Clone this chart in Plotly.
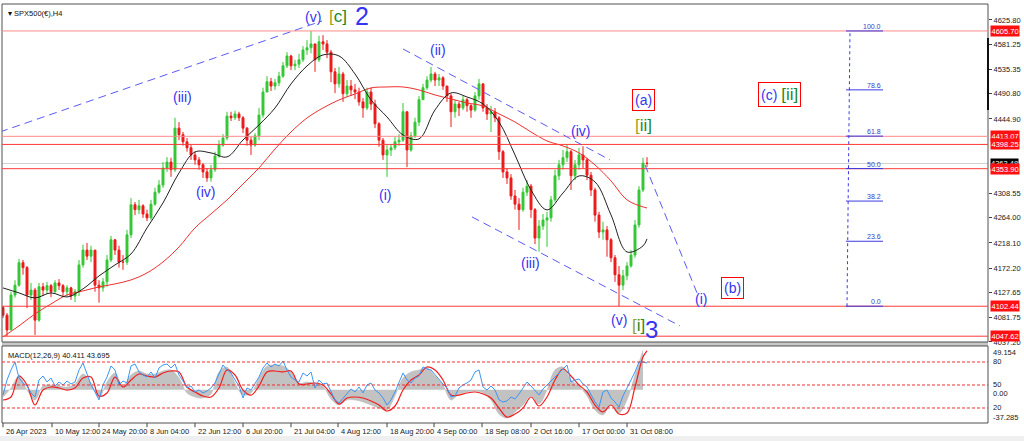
import plotly.graph_objects as go

# ---------------- data ----------------
first_open = 4100
close = [4086, 4059, 4123, 4141, 4182, 4173, 4123, 4132, 4077, 4138,
         4132, 4140, 4129, 4145, 4140, 4129, 4136, 4121, 4129, 4178,
         4205, 4194, 4205, 4141, 4136, 4147, 4187, 4224, 4205, 4183,
         4183, 4233, 4288, 4279, 4286, 4271, 4264, 4289, 4311, 4324,
         4355, 4366, 4352, 4428, 4416, 4403, 4392, 4379, 4370, 4361,
         4348, 4337, 4352, 4377, 4397, 4410, 4450, 4447, 4454, 4447,
         4428, 4406, 4397, 4414, 4452, 4494, 4513, 4505, 4511, 4523,
         4542, 4560, 4542, 4545, 4553, 4571, 4575, 4582, 4553, 4586,
         4582, 4567, 4531, 4509, 4527, 4491, 4505, 4498, 4494, 4476,
         4465, 4494, 4472, 4436, 4406, 4379, 4388, 4392, 4403, 4406,
         4458, 4388, 4414, 4439, 4480, 4502, 4516, 4527, 4516, 4520,
         4505, 4487, 4458, 4472, 4465, 4480, 4469, 4461, 4487, 4509,
         4465, 4454, 4458, 4447, 4385, 4348, 4337, 4304, 4289, 4279,
         4311, 4322, 4279, 4227, 4249, 4260, 4264, 4297, 4341, 4361,
         4374, 4385, 4341, 4361, 4379, 4370, 4342, 4315, 4269, 4238,
         4242, 4224, 4191, 4160, 4141, 4158, 4176, 4196, 4251, 4315,
         4364, 4363.48]
high = [4103, 4090, 4129, 4150, 4189, 4187, 4176, 4145, 4136, 4145,
        4145, 4147, 4143, 4150, 4152, 4143, 4141, 4138, 4134, 4187,
        4215, 4218, 4213, 4205, 4150, 4154, 4196, 4231, 4224, 4213,
        4196, 4242, 4300, 4293, 4297, 4289, 4279, 4297, 4319, 4333,
        4366, 4375, 4374, 4447, 4439, 4421, 4410, 4397, 4385, 4375,
        4364, 4355, 4361, 4385, 4406, 4417, 4458, 4458, 4460, 4458,
        4450, 4430, 4412, 4419, 4465, 4502, 4523, 4520, 4518, 4531,
        4549, 4567, 4562, 4553, 4564, 4578, 4589, 4605.7, 4582, 4597,
        4598, 4589, 4571, 4538, 4540, 4531, 4516, 4516, 4509, 4502,
        4483, 4502, 4502, 4480, 4439, 4410, 4397, 4399, 4412, 4417,
        4474, 4458, 4421, 4447, 4487, 4509, 4523, 4540, 4531, 4527,
        4523, 4505, 4491, 4480, 4476, 4487, 4483, 4472, 4494, 4518,
        4509, 4472, 4469, 4465, 4450, 4388, 4355, 4344, 4315, 4300,
        4319, 4333, 4326, 4282, 4260, 4271, 4275, 4304, 4352, 4370,
        4388, 4398.25, 4388, 4370, 4392, 4395, 4374, 4348, 4319, 4275,
        4257, 4249, 4227, 4196, 4176, 4169, 4183, 4205, 4260, 4322,
        4374, 4375]
low = [4081, 4047.62, 4059, 4118, 4138, 4160, 4099, 4114, 4050, 4074,
       4121, 4125, 4119, 4127, 4132, 4119, 4121, 4114, 4110, 4121,
       4173, 4187, 4183, 4129, 4109, 4129, 4138, 4183, 4196, 4173,
       4169, 4178, 4227, 4269, 4271, 4264, 4258, 4260, 4286, 4308,
       4319, 4348, 4339, 4348, 4406, 4396, 4385, 4370, 4361, 4352,
       4337, 4330, 4330, 4348, 4374, 4394, 4406, 4441, 4443, 4441,
       4419, 4396, 4379, 4394, 4406, 4447, 4494, 4496, 4498, 4505,
       4520, 4538, 4534, 4534, 4538, 4549, 4562, 4565, 4531, 4549,
       4571, 4556, 4512, 4492, 4502, 4476, 4485, 4487, 4481, 4469,
       4447, 4461, 4461, 4428, 4394, 4370, 4339, 4377, 4388, 4396,
       4403, 4357, 4385, 4410, 4432, 4480, 4498, 4512, 4505, 4505,
       4498, 4476, 4430, 4447, 4450, 4461, 4458, 4447, 4458, 4480,
       4458, 4443, 4421, 4439, 4370, 4337, 4326, 4297, 4279, 4242,
       4275, 4304, 4264, 4216, 4202, 4242, 4211, 4257, 4293, 4333,
       4352, 4366, 4315, 4333, 4352, 4355, 4333, 4304, 4257, 4227,
       4224, 4193, 4183, 4147, 4102.44, 4132, 4150, 4173, 4191, 4246,
       4311, 4357]

# moving averages, one value every 4 bars (+ last bar)
black_ma = [4135.9, 4126.8, 4117.6, 4126.8, 4119.4, 4134.1, 4157.8, 4177.9, 4198.0, 4245.6,
            4291.3, 4346.1, 4384.5, 4382.7, 4375.4, 4406.4, 4433.9, 4464.9, 4508.8, 4541.7,
            4561.8, 4560.0, 4527.1, 4479.6, 4448.5, 4415.6, 4408.3, 4461.3, 4492.4, 4485.0,
            4472.3, 4439.3, 4379.0, 4315.0, 4278.5, 4309.5, 4340.6, 4329.7, 4269.3, 4201.7,
            4212.7, 4225.5]
red_ma = [4046.3, 4066.5, 4088.4, 4106.6, 4123.1, 4130.4, 4137.7, 4143.2, 4150.5, 4163.3,
          4183.4, 4210.8, 4245.6, 4271.2, 4296.8, 4326.0, 4355.3, 4389.9, 4421.0, 4446.6,
          4464.9, 4479.6, 4490.5, 4501.5, 4503.3, 4503.3, 4497.8, 4488.7, 4481.4, 4474.1,
          4468.6, 4454.0, 4439.3, 4421.0, 4404.6, 4395.5, 4382.7, 4360.7, 4331.5, 4296.8,
          4284.0, 4282.1]

# MACD panel: histogram every 2 bars, signal every 2 bars (+ last), blue oscillator every bar
macd_hist = [-8.1, 2.0, 15.5, -0.3, -11.5, 4.2, 5.4, 4.2, 3.1, 6.5,
             17.7, 7.6, -9.2, 8.7, 18.8, 4.2, 16.6, 21.1, 17.7, 17.7,
             21.1, 22.2, 13.2, -3.6, -8.1, -9.2, -4.7, 20.0, 25.6, 7.6,
             -5.9, -3.6, 13.2, 26.7, 27.8, 26.7, 20.0, 7.6, 8.7, 7.6,
             4.2, -10.4, -17.1, -11.5, -11.5, -13.7, -17.1, -20.5, -22.7, -7.0,
             13.2, 20.0, 22.2, 24.5, 15.5, 5.4, -11.5, -4.7, -2.5, -1.4,
             -3.6, -11.5, -27.2, -31.7, -24.9, -17.1, -7.0, -16.0, -0.3, 22.2,
             25.6, 11.0, 4.2, -7.0, -22.7, -28.3, -16.0, -26.1, -11.5, 16.6,
             44.5]
macd_signal = [-11.5, -8.1, 15.5, 5.4, -17.1, -0.3, 3.1, 2.0, -0.3, 2.0,
               13.2, 14.3, -7.0, -3.6, 14.3, 3.1, 11.0, 17.7, 15.5, 14.3,
               18.8, 21.1, 20.0, 3.1, -2.5, -7.0, -8.1, 2.0, 22.2, 16.6,
               -0.3, -5.9, 4.2, 20.0, 21.1, 20.0, 21.1, 6.5, 6.5, 7.6,
               5.4, -4.7, -16.0, -9.2, -8.1, -9.2, -12.6, -17.1, -23.8, -18.2,
               -0.3, 11.0, 16.6, 25.6, 22.2, 11.0, -5.9, -5.9, -3.6, -2.5,
               -4.7, -9.2, -20.5, -30.6, -27.2, -20.5, -8.1, -18.2, -8.1, 11.0,
               23.3, 15.5, 5.4, -2.5, -17.1, -24.9, -17.1, -27.2, -26.1, 3.1,
               36.8, 43.695]
blue_osc = [37.0, 56.5, 69.6, 80.0, 59.1, 52.6, 48.7, 39.6, 34.4, 56.5,
            61.7, 53.9, 59.1, 48.7, 53.9, 50.0, 55.2, 51.3, 53.9, 69.6,
            78.7, 63.0, 50.0, 40.9, 30.5, 50.0, 60.4, 74.8, 69.6, 50.0,
            55.2, 52.6, 74.8, 77.4, 67.0, 63.0, 60.4, 67.0, 59.1, 72.2,
            76.1, 77.4, 72.2, 77.4, 63.0, 55.2, 46.1, 48.7, 40.9, 43.5,
            39.6, 42.2, 46.1, 52.6, 64.3, 76.1, 69.6, 65.7, 56.5, 48.7,
            33.1, 46.1, 43.5, 52.6, 60.4, 72.2, 78.7, 73.5, 77.4, 74.8,
            81.3, 69.6, 60.4, 56.5, 53.9, 65.7, 61.7, 67.0, 46.1, 56.5,
            51.3, 52.6, 40.9, 30.5, 26.5, 33.1, 39.6, 44.8, 40.9, 47.4,
            39.6, 50.0, 52.6, 43.5, 39.6, 33.1, 23.9, 30.5, 40.9, 53.9,
            65.7, 56.5, 52.6, 59.1, 61.7, 73.5, 70.9, 69.6, 63.0, 57.8,
            51.3, 46.1, 34.4, 35.7, 46.1, 50.0, 52.6, 56.5, 67.0, 69.6,
            47.4, 43.5, 48.7, 43.5, 30.5, 27.8, 29.2, 34.4, 31.8, 38.3,
            46.1, 53.9, 48.7, 42.2, 37.0, 44.8, 50.0, 56.5, 61.7, 65.7,
            70.9, 76.1, 53.9, 56.5, 57.8, 51.3, 47.4, 38.3, 27.8, 21.3,
            40.9, 43.5, 33.1, 27.8, 21.3, 35.7, 46.1, 56.5, 67.0, 80.0,
            80.0, 78.7]
osc_levels = [80, 50, 20]

price_ticks = [4625.80, 4581.25, 4535.35, 4490.80, 4444.90, 4308.55,
               4264.00, 4218.10, 4172.20, 4127.65, 4081.75, 4037.20]
red_levels = [4605.70, 4413.07, 4398.25, 4353.90, 4102.44, 4047.62]
red_level_colors = ["#FF8A8A", "#FF8A8A", "#FF3B3B", "#FF3B3B", "#FF3B3B", "#FF3B3B"]
bid_price = 4363.48
fib_low, fib_high = 4102.44, 4605.70
fib_levels = [100.0, 78.6, 61.8, 50.0, 38.2, 23.6, 0.0]

date_labels = ["26 Apr 2023", "10 May 12:00", "24 May 20:00", "8 Jun 04:00", "22 Jun 12:00",
               "6 Jul 20:00", "21 Jul 04:00", "4 Aug 12:00", "18 Aug 20:00", "4 Sep 00:00",
               "18 Sep 08:00", "2 Oct 16:00", "17 Oct 00:00", "31 Oct 08:00"]
date_bars = [0, 12.25, 24, 36, 48, 60, 72, 83.75, 96, 107.75, 119.75, 132, 144, 156]

# ---------------- figure ----------------
N = len(close)
bars = list(range(N))
opens = [first_open] + close[:-1]
ma_bars = list(range(0, N - 1, 4)) + [N - 1]
hist_bars = list(range(0, N - 1, 2))
sig_bars = list(range(0, N - 1, 2)) + [N - 1]

BLUE = "#3434F2"
GREEN = "#1F8A1F"
OLIVE = "#A0A020"
FONT = "Liberation Sans"

fig = go.Figure()
fig.add_trace(go.Candlestick(
    x=bars, open=opens, high=high, low=low, close=close,
    increasing=dict(line=dict(color="#34C834", width=1), fillcolor="#34C834"),
    decreasing=dict(line=dict(color="#EE1A1A", width=1), fillcolor="#EE1A1A"),
    whiskerwidth=0, showlegend=False, hoverinfo="skip", xaxis="x", yaxis="y"))
fig.add_trace(go.Scatter(x=ma_bars, y=red_ma, mode="lines",
                         line=dict(color="#F03030", width=1, shape="spline"),
                         hoverinfo="skip", xaxis="x", yaxis="y"))
fig.add_trace(go.Scatter(x=ma_bars, y=black_ma, mode="lines",
                         line=dict(color="#202020", width=1, shape="spline"),
                         hoverinfo="skip", xaxis="x", yaxis="y"))

fig.add_trace(go.Scatter(x=hist_bars, y=macd_hist, mode="lines", fill="tozeroy",
                         fillcolor="#C2C2C2", line=dict(color="#B8B8B8", width=0.5, shape="spline"),
                         hoverinfo="skip", xaxis="x", yaxis="y2"))
fig.add_trace(go.Scatter(x=bars, y=blue_osc, mode="lines", line=dict(color="#3D95F5", width=1),
                         hoverinfo="skip", xaxis="x", yaxis="y3"))
fig.add_trace(go.Scatter(x=sig_bars, y=macd_signal, mode="lines",
                         line=dict(color="#F02020", width=1.2, shape="spline"),
                         hoverinfo="skip", xaxis="x", yaxis="y2"))

MAIN_BOTTOM = 0.1933
MACD_TOP = 0.1838

shapes = []
annotations = []

# panel frames and separator
shapes.append(dict(type="rect", xref="paper", yref="paper", x0=0, x1=1, y0=MACD_TOP, y1=MAIN_BOTTOM,
                   fillcolor="#C8C8C8", line=dict(width=0), layer="above"))
shapes.append(dict(type="rect", xref="paper", yref="paper", x0=0, x1=1, y0=MAIN_BOTTOM, y1=1,
                   line=dict(color="#505050", width=1), layer="above"))
shapes.append(dict(type="rect", xref="paper", yref="paper", x0=0, x1=1, y0=0, y1=MACD_TOP,
                   line=dict(color="#505050", width=1), layer="above"))
shapes.append(dict(type="rect", xref="paper", yref="paper", x0=-0.01, x1=1.04, y0=-0.045, y1=-0.031,
                   fillcolor="#EFEFEF", line=dict(width=0)))
shapes.append(dict(type="line", xref="paper", yref="y", x0=1, x1=1, y0=4593, y1=4461,
                   line=dict(color="#101010", width=2)))

# bid line and horizontal levels
shapes.append(dict(type="line", xref="paper", yref="y", x0=0, x1=1, y0=bid_price, y1=bid_price,
                   line=dict(color="#D0D0D0", width=1), layer="below"))
for lv, col in zip(red_levels, red_level_colors):
    shapes.append(dict(type="line", xref="paper", yref="y", x0=0, x1=1, y0=lv, y1=lv,
                       line=dict(color=col, width=1)))

# trend / channel lines (bar index, price)
for (xa, ya, xb, yb) in [(-0.75, 4421.1, 79.75, 4624.0),
                         (100.0, 4572.8, 151.75, 4369.9),
                         (117.25, 4265.7, 169.25, 4066.4),
                         (160.5, 4360.7, 173.5, 4126.8)]:
    shapes.append(dict(type="line", xref="x", yref="y", x0=xa, y0=ya, x1=xb, y1=yb,
                       line=dict(color="#5A5AF5", width=1, dash="8px,5px")))

# fibonacci
shapes.append(dict(type="line", xref="x", yref="y", x0=211.0, y0=fib_low, x1=211.75, y1=fib_high,
                   line=dict(color="#3A3AE0", width=1, dash="dot")))
for lvl in fib_levels:
    p = fib_low + lvl / 100.0 * (fib_high - fib_low)
    shapes.append(dict(type="line", xref="x", yref="y", x0=210.75, x1=220, y0=p, y1=p,
                       line=dict(color="#3A3AE0", width=1)))
    annotations.append(dict(x=220, y=p, xref="x", yref="y", text=f"{lvl:.1f}", showarrow=False,
                            xanchor="right", yanchor="bottom", yshift=-1,
                            font=dict(family=FONT, size=7, color="#3A3AC8")))

# oscillator levels in MACD window
for lv in osc_levels:
    shapes.append(dict(type="line", xref="paper", yref="y3", x0=0, x1=1, y0=lv, y1=lv,
                       line=dict(color="#F03030", width=1, dash="3px,2px")))

# date ticks + labels
for lab, b in zip(date_labels, date_bars):
    shapes.append(dict(type="line", xref="x", yref="paper", x0=b, x1=b, y0=0, y1=-0.01,
                       line=dict(color="#404040", width=1)))
    annotations.append(dict(x=b, y=0, xref="x", yref="paper", text=lab, showarrow=False,
                            xanchor="left", yanchor="top", xshift=1, yshift=-2,
                            font=dict(family=FONT, size=7.5, color="#202020")))

# right side price labels
annotations.append(dict(x=1, y=bid_price, xref="paper", yref="y", text=f"{bid_price:.2f}", showarrow=False,
                        xanchor="left", yanchor="middle", xshift=2, bgcolor="#000000", borderpad=0,
                        font=dict(family=FONT, size=7.5, color="white")))
for lv in red_levels:
    annotations.append(dict(x=1, y=lv, xref="paper", yref="y", text=f"{lv:.2f}", showarrow=False,
                            xanchor="left", yanchor="middle", xshift=2, bgcolor="#FF1010", borderpad=0.5,
                            font=dict(family=FONT, size=7.5, color="white")))

# MACD right labels
annotations.append(dict(x=1, y=49.154, xref="paper", yref="y2", text="49.154", showarrow=False,
                        xanchor="left", yanchor="top", xshift=3, font=dict(family=FONT, size=7.5, color="#202020")))
annotations.append(dict(x=1, y=0, xref="paper", yref="y2", text="0.00", showarrow=False,
                        xanchor="left", yanchor="top", xshift=3, yshift=3, font=dict(family=FONT, size=7.5, color="#202020")))
annotations.append(dict(x=1, y=-37.285, xref="paper", yref="y2", text="-37.285", showarrow=False,
                        xanchor="left", yanchor="bottom", xshift=3, yshift=-1, font=dict(family=FONT, size=7.5, color="#202020")))
for lv in osc_levels:
    annotations.append(dict(x=1, y=lv, xref="paper", yref="y3", text=str(lv), showarrow=False,
                            xanchor="left", yanchor="middle", xshift=3, font=dict(family=FONT, size=7.5, color="#202020")))

# titles
annotations.append(dict(x=0, y=1, xref="paper", yref="paper", text="▾ SPX500(€),H4", showarrow=False,
                        xanchor="left", yanchor="top", xshift=4, yshift=-3,
                        font=dict(family=FONT, size=7.5, color="#101010")))
annotations.append(dict(x=0, y=MACD_TOP, xref="paper", yref="paper", text="MACD(12,26,9) 40.411 43.695",
                        showarrow=False, xanchor="left", yanchor="top", xshift=4, yshift=-3,
                        font=dict(family=FONT, size=7.5, color="#101010")))

# wave labels (bar index, price)
def wave(x, y, text, size=14, color=BLUE, **kw):
    d = dict(x=x, y=y, xref="x", yref="y", text=text, showarrow=False,
             font=dict(family=FONT, size=size, color=color))
    d.update(kw)
    annotations.append(d)

br = lambda inner: f'<span style="color:{OLIVE}">[</span>{inner}]'
wave(77.5, 4631.3, "(v)")
wave(83.75, 4631.3, br("c"), size=17, color=GREEN)
wave(89.75, 4633.0, "2", size=25)
wave(44.75, 4485.0, "(iii)")
wave(50.5, 4311.3, "(iv)")
wave(95.5, 4305.9, "(i)")
wave(108.75, 4571.0, "(ii)")
wave(131.75, 4181.6, "(iii)")
wave(144.25, 4422.9, "(iv)")
wave(154.0, 4077.4, "(v)")
wave(158.75, 4066.4, br("i"), size=17, color=GREEN)
wave(162.0, 4060.0, "3", size=24)
wave(160.0, 4479.6, "(a)", bordercolor="#FF0000", borderwidth=1, borderpad=2, bgcolor="white")
wave(160.0, 4432.0, br("ii"), size=17, color=GREEN)
wave(194.0, 4488.7, f'(c) <span style="color:{GREEN};font-size:17px">[ii]</span>',
     bordercolor="#FF0000", borderwidth=1, borderpad=2, bgcolor="white")
wave(182.25, 4135.9, "(b)", bordercolor="#FF0000", borderwidth=1, borderpad=2, bgcolor="white")
wave(174.5, 4115.8, "(i)")

fig.update_layout(
    width=1024, height=441,
    margin=dict(l=2, r=36, t=4, b=18),
    paper_bgcolor="white", plot_bgcolor="white",
    showlegend=False,
    xaxis=dict(range=[-0.25, 246.25], showgrid=False, zeroline=False, showticklabels=False,
               ticks="", rangeslider=dict(visible=False), anchor="y2", showline=False),
    yaxis=dict(domain=[MAIN_BOTTOM, 1], range=[4037.0, 4655.0], side="right", anchor="x",
               tickvals=price_ticks, ticktext=[f"{v:.2f}" for v in price_ticks],
               showgrid=False, zeroline=False, ticks="outside", ticklen=3, tickcolor="#404040",
               tickfont=dict(family=FONT, size=7.5, color="#202020")),
    yaxis2=dict(domain=[0, MACD_TOP], range=[-37.285, 49.154], anchor="x",
                showticklabels=False, showgrid=False, zeroline=False, ticks=""),
    yaxis3=dict(overlaying="y2", range=[0.43, 100.87], visible=False, showgrid=False, zeroline=False),
    shapes=shapes, annotations=annotations,
)

fig.write_html("out.html", config={"displayModeBar": False},
               post_script="document.body.style.margin='0';document.body.style.padding='0';")
